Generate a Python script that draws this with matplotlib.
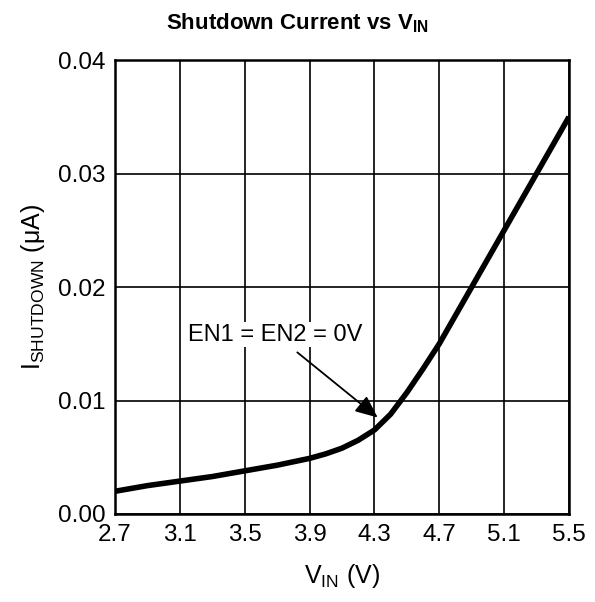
import matplotlib
matplotlib.use('Agg')
import matplotlib.pyplot as plt
import numpy as np

plt.rcParams['font.family'] = ['Liberation Sans', 'DejaVu Sans']
plt.rcParams['mathtext.fontset'] = 'custom'
plt.rcParams['mathtext.rm'] = 'Liberation Sans'
plt.rcParams['mathtext.bf'] = 'Liberation Sans:bold'

# values
vin = [2.7, 2.9, 3.1, 3.3, 3.5, 3.7, 3.9, 4.0, 4.1, 4.2, 4.3, 4.4, 4.5, 4.6, 4.7, 4.9, 5.1, 5.3, 5.5]
ishdn = [0.0020, 0.0025, 0.0029, 0.0033, 0.0038, 0.0043, 0.0049, 0.0053, 0.0058, 0.0065, 0.0074, 0.0088, 0.0107, 0.0128, 0.0150, 0.0200, 0.0250, 0.0300, 0.0350]
xticks = [2.7, 3.1, 3.5, 3.9, 4.3, 4.7, 5.1, 5.5]
yticks = [0.00, 0.01, 0.02, 0.03, 0.04]

fig = plt.figure(figsize=(5.95, 6.02), dpi=100)
ax = fig.add_axes([0.1933, 0.1462, 0.7630, 0.7540])

ax.plot(vin, ishdn, color='black', lw=4, solid_capstyle='butt', zorder=3)

ax.set_xlim(2.7, 5.5)
ax.set_ylim(0, 0.04)
ax.set_xticks(xticks)
ax.set_xticklabels(['%.1f' % v for v in xticks])
ax.set_yticks(yticks)
ax.set_yticklabels(['%.2f' % v for v in yticks])
ax.grid(True, color='black', lw=1.2)
ax.tick_params(length=0, labelsize=17.5, pad=7)
for s in ax.spines.values():
    s.set_linewidth(1.8)

ax.set_xlabel(r'V$_{\mathregular{IN}}$ (V)', fontsize=18, labelpad=12)
ax.set_ylabel(r'I$_{\mathregular{SHUTDOWN}}$ (μA)', fontsize=18, labelpad=8)
fig.text(0.50, 0.962, r'Shutdown Current vs V$_{\mathbf{IN}}$', ha='center', va='center',
         fontsize=16, fontweight='bold')

ax.annotate('EN1 = EN2 = 0V', xy=(4.32, 0.0085), xytext=(3.69, 0.0158),
            ha='center', va='center', fontsize=17,
            bbox=dict(facecolor='white', edgecolor='none', pad=1),
            arrowprops=dict(arrowstyle='-|>,head_length=0.8,head_width=0.35',
                            color='black', lw=1.3, shrinkA=6, shrinkB=0))

fig.savefig('out.png', dpi=100)
